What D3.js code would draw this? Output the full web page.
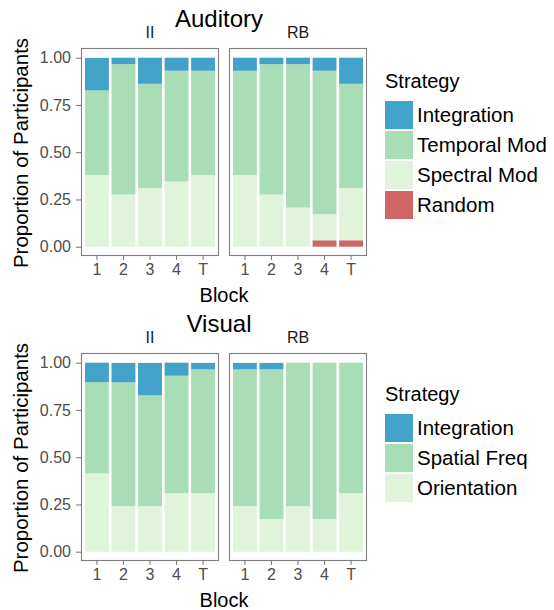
<!DOCTYPE html>
<html>
<head>
<meta charset="utf-8">
<script src="https://cdn.jsdelivr.net/npm/d3@7"></script>
<style>
  html, body { margin: 0; padding: 0; background: #fff; }
  svg { display: block; font-family: "Liberation Sans", Arial, Helvetica, sans-serif; }
</style>
</head>
<body>
<svg id="chart" width="554" height="610"></svg>
<script>
// ---- Data ----
const blocks = ["1", "2", "3", "4", "T"];
const conditions = ["II", "RB"];
const yTicks = [0, 0.25, 0.5, 0.75, 1.0];

// Auditory
const audKeys = ["Random", "Spectral Mod", "Temporal Mod", "Integration"];
const audII_integration = [0.172, 0.034, 0.138, 0.069, 0.069];
const audII_temporal    = [0.448, 0.690, 0.552, 0.586, 0.552];
const audII_spectral    = [0.379, 0.276, 0.310, 0.345, 0.379];
const audII_random      = [0, 0, 0, 0, 0];
const audRB_integration = [0.069, 0.034, 0.034, 0.069, 0.138];
const audRB_temporal    = [0.552, 0.690, 0.759, 0.759, 0.552];
const audRB_spectral    = [0.379, 0.276, 0.207, 0.138, 0.276];
const audRB_random      = [0, 0, 0, 0.034, 0.034];

// Visual
const visKeys = ["Orientation", "Spatial Freq", "Integration"];
const visII_integration = [0.103, 0.103, 0.172, 0.069, 0.034];
const visII_spatial     = [0.483, 0.655, 0.586, 0.621, 0.655];
const visII_orientation = [0.414, 0.241, 0.241, 0.310, 0.310];
const visRB_integration = [0.034, 0.034, 0, 0, 0];
const visRB_spatial     = [0.724, 0.793, 0.759, 0.828, 0.690];
const visRB_orientation = [0.241, 0.172, 0.241, 0.172, 0.310];

const colors = {
  "Integration": "#43a2ca",
  "Temporal Mod": "#a8ddb5",
  "Spectral Mod": "#e0f3db",
  "Random": "#d06565",
  "Spatial Freq": "#a8ddb5",
  "Orientation": "#e0f3db"
};

function rows(seriesByKey) {
  return blocks.map((b, i) => {
    const r = { block: b };
    for (const k in seriesByKey) r[k] = seriesByKey[k][i];
    return r;
  });
}

const audData = {
  II: rows({ "Random": audII_random, "Spectral Mod": audII_spectral, "Temporal Mod": audII_temporal, "Integration": audII_integration }),
  RB: rows({ "Random": audRB_random, "Spectral Mod": audRB_spectral, "Temporal Mod": audRB_temporal, "Integration": audRB_integration })
};
const visData = {
  II: rows({ "Orientation": visII_orientation, "Spatial Freq": visII_spatial, "Integration": visII_integration }),
  RB: rows({ "Orientation": visRB_orientation, "Spatial Freq": visRB_spatial, "Integration": visRB_integration })
};

// ---- Layout ----
const svg = d3.select("#chart");
const panelX = { II: [81, 219], RB: [229, 367] };
const gridCol = "#7f7f7f";
const textCol = "#4d4d4d";

function drawFacet(off, title, data, keys, legendKeys) {
  const g = svg.append("g").attr("transform", `translate(0,${off})`);
  const panelTop = 48, panelBottom = 256;
  const y = d3.scaleLinear().domain([0, 1]).range([246.7, 57.7]);

  g.append("text").attr("x", 219).attr("y", 27).attr("text-anchor", "middle")
    .attr("font-size", 24).attr("fill", "#000").text(title);

  conditions.forEach((c, ci) => {
    const [x0, x1] = panelX[c];
    const x = d3.scaleBand().domain(blocks).range([x0, x1]).paddingInner(0.1).paddingOuter(0.15);
    const stack = d3.stack().keys(keys)(data[c]);

    g.append("text").attr("x", (x0 + x1) / 2).attr("y", 38).attr("text-anchor", "middle")
      .attr("font-size", 16).attr("fill", "#1a1a1a").text(c);

    const pg = g.append("g");
    stack.forEach(layer => {
      pg.selectAll(null).data(layer.filter(d => d[1] - d[0] > 0)).join("rect")
        .attr("x", d => x(d.data.block))
        .attr("width", x.bandwidth())
        .attr("y", d => y(d[1]))
        .attr("height", d => y(d[0]) - y(d[1]))
        .attr("fill", colors[layer.key]);
    });

    g.append("rect").attr("x", x0 + 0.5).attr("y", panelTop + 0.5)
      .attr("width", x1 - x0 - 1).attr("height", panelBottom - panelTop - 1)
      .attr("fill", "none").attr("stroke", gridCol).attr("stroke-width", 1.1);

    const xa = g.append("g").attr("transform", `translate(0,${panelBottom})`)
      .call(d3.axisBottom(x).tickSize(4).tickPadding(4));
    xa.select(".domain").remove();
    xa.selectAll("line").attr("stroke", gridCol).attr("stroke-width", 1.1);
    xa.selectAll("text").attr("font-size", 16).attr("fill", textCol)
      .attr("font-family", "Liberation Sans, Arial, sans-serif");

    if (ci === 0) {
      const ya = g.append("g").attr("transform", `translate(${x0},0)`)
        .call(d3.axisLeft(y).tickValues(yTicks).tickFormat(d3.format(".2f")).tickSize(5).tickPadding(5));
      ya.select(".domain").remove();
      ya.selectAll("line").attr("stroke", gridCol).attr("stroke-width", 1.1);
      ya.selectAll("text").attr("font-size", 16).attr("fill", textCol)
        .attr("font-family", "Liberation Sans, Arial, sans-serif");
    }
  });

  g.append("text").attr("transform", `translate(28,${(panelTop + panelBottom) / 2 + 1}) rotate(-90)`)
    .attr("text-anchor", "middle").attr("font-size", 20.5).attr("fill", "#000")
    .text("Proportion of Participants");

  g.append("text").attr("x", 224).attr("y", 302).attr("text-anchor", "middle")
    .attr("font-size", 20).attr("fill", "#000").text("Block");

  // Legend
  const lg = g.append("g");
  const legTop = off === 0 ? 88 : 96;
  lg.append("text").attr("x", 385).attr("y", legTop).attr("font-size", 20).attr("fill", "#000").text("Strategy");
  legendKeys.forEach((k, i) => {
    const ky = legTop + 13 + i * 30;
    lg.append("rect").attr("x", 385).attr("y", ky).attr("width", 28).attr("height", 28)
      .attr("fill", colors[k]);
    lg.append("text").attr("x", 417).attr("y", ky + 14).attr("dy", "0.35em")
      .attr("font-size", 20.5).attr("fill", "#000").text(k);
  });
}

drawFacet(0, "Auditory", audData, audKeys, ["Integration", "Temporal Mod", "Spectral Mod", "Random"]);
drawFacet(305, "Visual", visData, visKeys, ["Integration", "Spatial Freq", "Orientation"]);
</script>
</body>
</html>
